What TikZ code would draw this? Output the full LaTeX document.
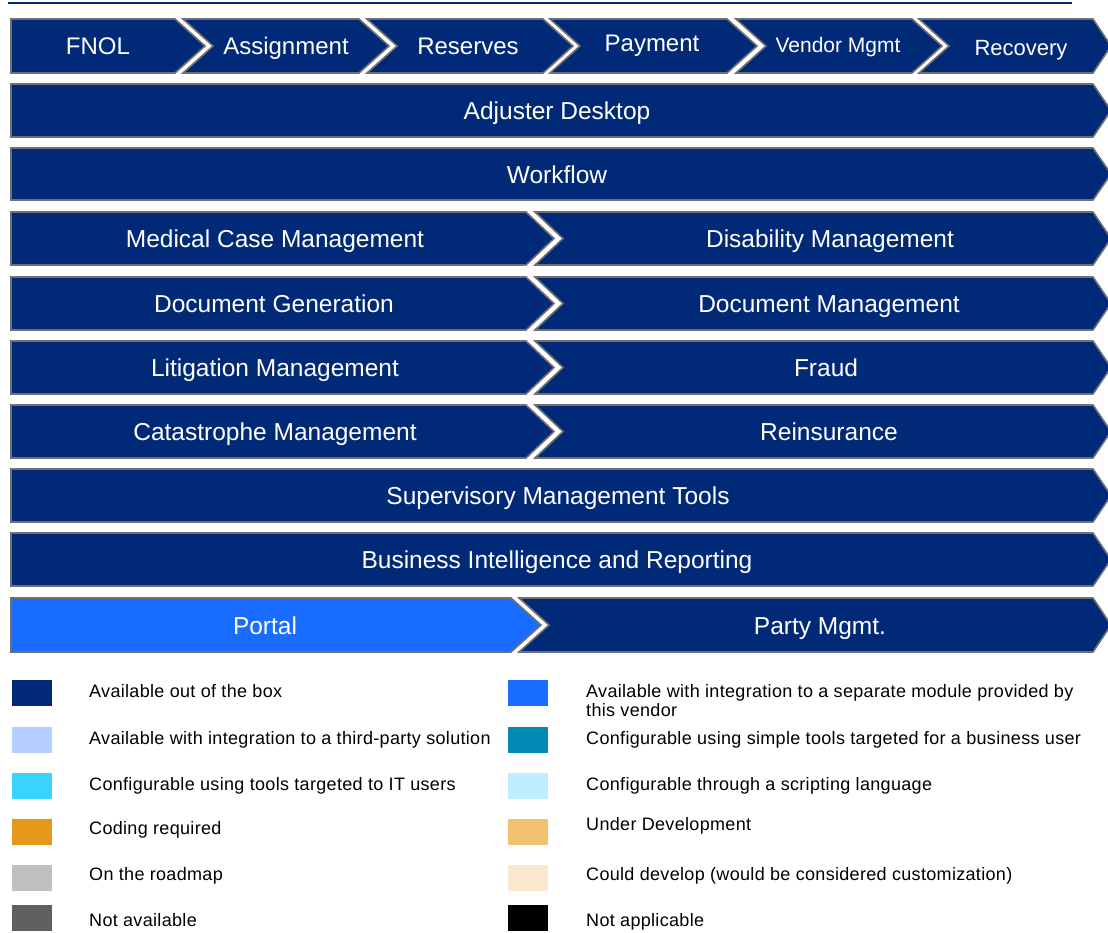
\documentclass[tikz,border=0pt]{standalone}
\usepackage{fontspec}
\setmainfont{Liberation Sans}
\newfontfamily\legendfont[LetterSpace=1.8]{Liberation Sans}

\definecolor{navy}{RGB}{0,41,120}
\definecolor{brightblue}{RGB}{24,108,255}
\definecolor{edgegray}{RGB}{112,112,112}
\definecolor{palebluekey}{RGB}{179,206,255}
\definecolor{cyankey}{RGB}{56,212,255}
\definecolor{orangekey}{RGB}{227,152,25}
\definecolor{lgraykey}{RGB}{191,191,191}
\definecolor{dgraykey}{RGB}{96,96,96}
\definecolor{tealkey}{RGB}{0,137,178}
\definecolor{icekey}{RGB}{190,238,255}
\definecolor{sandkey}{RGB}{242,194,112}
\definecolor{creamkey}{RGB}{251,233,207}

\tikzset{
  band/.style={draw=edgegray, line width=1.6pt, line join=miter},
  % labels are centred on their capital letters
  lbl/.style={text=white, inner sep=0pt, text height=17.5pt, text depth=0pt,
              font=\fontsize{24.5}{28}\selectfont},
  toplbl/.style={lbl, font=\fontsize{24}{28}\selectfont},
  smalllbl/.style={lbl, text height=15pt, font=\fontsize{21}{24}\selectfont},
  legbox/.style={minimum width=40pt, minimum height=26pt, inner sep=0pt},
  legtxt/.style={anchor=west, inner sep=0pt,
                 text height=13pt, text depth=0pt,
                 font=\legendfont\fontsize{18}{19.5}\selectfont},
}

% #1 fill, #2 left x, #3 right corner x, #4 top y, #5 bottom y,
% #6 notch depth on the left, #7 tip depth on the right
\newcommand{\chevshape}[7]{%
  \path[band, fill=#1] (#2,#4) -- (#3,#4) -- ({#3+#7},{(#4+#5)/2})
    -- (#3,#5) -- (#2,#5) -- ({#2+#6},{(#4+#5)/2}) -- cycle;}

\begin{document}
\begin{tikzpicture}[x=1pt, y=-1pt]
\useasboundingbox (0,0) rectangle (1108,932);

% rule along the top
\draw[navy, line width=2.5pt] (8,3) -- (1072,3);

% process chevrons
\chevshape{navy}{11}{175}{19}{73}{0}{30}
\chevshape{navy}{183}{359}{19}{73}{30}{30}
\chevshape{navy}{367}{543}{19}{73}{30}{30}
\chevshape{navy}{550}{727}{19}{73}{30}{30}
\chevshape{navy}{736}{912}{19}{73}{30}{30}
\chevshape{navy}{919}{1093}{19}{73}{30}{18}
\node[toplbl] (fnol) at (98,46) {FNOL};
\node[toplbl] (assign) at (286,46) {Assignment};
\node[toplbl] (reserves) at (468,46) {Reserves};
\node[toplbl] (payment) at (652,43) {Payment};
\node[smalllbl] (vendor) at (838,45) {Vendor Mgmt};
\node[toplbl, text height=16pt, font=\fontsize{22}{26}\selectfont] (recovery) at (1021,47) {Recovery};

% full-width bands
\chevshape{navy}{11}{1093}{84}{137}{0}{18}
\node[lbl] (desk) at (557,111) {Adjuster Desktop};
\chevshape{navy}{11}{1093}{148}{200}{0}{18}
\node[lbl] (flow) at (557,175) {Workflow};

% split bands
\chevshape{navy}{535}{1093}{212}{265}{28}{18}
\chevshape{navy}{11}{526}{212}{265}{0}{28}
\node[lbl] (medical) at (275,239) {Medical Case Management};
\node[lbl] (disab) at (830,239) {Disability Management};

\chevshape{navy}{535}{1093}{277}{330}{28}{18}
\chevshape{navy}{11}{526}{277}{330}{0}{28}
\node[lbl] (docgen) at (274,304) {Document Generation};
\node[lbl] (docmgmt) at (829,304) {Document Management};

\chevshape{navy}{535}{1093}{341}{394}{28}{18}
\chevshape{navy}{11}{526}{341}{394}{0}{28}
\node[lbl] (litig) at (275,368) {Litigation Management};
\node[lbl] (fraud) at (826,368) {Fraud};

\chevshape{navy}{535}{1093}{405}{458}{28}{18}
\chevshape{navy}{11}{526}{405}{458}{0}{28}
\node[lbl] (cat) at (275,432) {Catastrophe Management};
\node[lbl] (reins) at (829,432) {Reinsurance};

\chevshape{navy}{11}{1093}{469}{522}{0}{18}
\node[lbl] (superv) at (558,496) {Supervisory Management Tools};
\chevshape{navy}{11}{1093}{533}{586}{0}{18}
\node[lbl] (bi) at (557,560) {Business Intelligence and Reporting};

\chevshape{navy}{519}{1093}{598}{652}{30}{18}
\chevshape{brightblue}{11}{511}{598}{652}{0}{30}
\node[lbl] (portal) at (265,626) {Portal};
\node[lbl] (party) at (820,626) {Party Mgmt.};

% legend, left column
\node[legbox, fill=navy] (ka) at (31.5,693) {};
\node[legtxt] (ta) at (89,691) {Available out of the box};
\node[legbox, fill=palebluekey] (kb) at (31.5,740) {};
\node[legtxt] (tb) at (89,738) {Available with integration to a third-party solution};
\node[legbox, fill=cyankey] (kc) at (31.5,786) {};
\node[legtxt] (tc) at (89,784) {Configurable using tools targeted to IT users};
\node[legbox, fill=orangekey] (kd) at (31.5,832) {};
\node[legtxt] (td) at (89,828) {Coding required};
\node[legbox, fill=lgraykey] (ke) at (31.5,878) {};
\node[legtxt] (te) at (89,874) {On the roadmap};
\node[legbox, fill=dgraykey] (kf) at (31.5,918) {};
\node[legtxt] (tf) at (89,920) {Not available};

% legend, right column
\node[legbox, fill=brightblue] (kg) at (528,693) {};
\node[legtxt] (tg) at (586,691) {Available with integration to a separate module provided by};
\node[legtxt] (tg2) at (586,710) {this vendor};
\node[legbox, fill=tealkey] (kh) at (528,740) {};
\node[legtxt] (th) at (586,738) {Configurable using simple tools targeted for a business user};
\node[legbox, fill=icekey] (ki) at (528,786) {};
\node[legtxt] (ti) at (586,784) {Configurable through a scripting language};
\node[legbox, fill=sandkey] (kj) at (528,832) {};
\node[legtxt] (tj) at (586,824) {Under Development};
\node[legbox, fill=creamkey] (kk) at (528,878) {};
\node[legtxt] (tk) at (586,874) {Could develop (would be considered customization)};
\node[legbox, fill=black] (kl) at (528,918) {};
\node[legtxt] (tl) at (586,920) {Not applicable};
\end{tikzpicture}
\end{document}
